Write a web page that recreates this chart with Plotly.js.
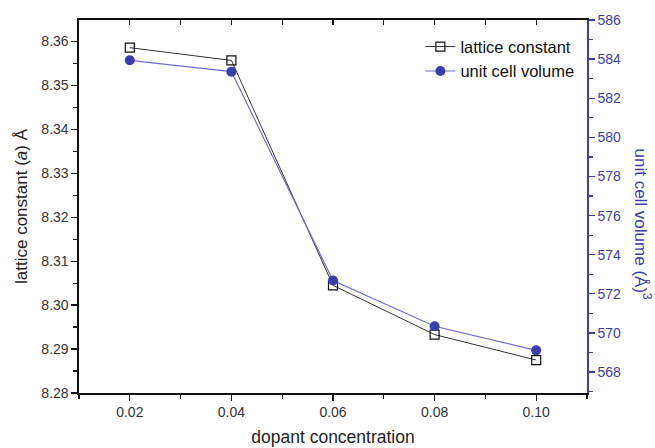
<!DOCTYPE html>
<html>
<head>
<meta charset="utf-8">
<script src="https://cdn.plot.ly/plotly-3.0.1.min.js"></script>
<style>html,body{margin:0;padding:0;background:#fff;}#chart{width:655px;height:448px;}</style>
</head>
<body>
<div id="chart"></div>
<script>
const concentration = [0.02, 0.04, 0.06, 0.08, 0.10];
const latticeConstant = [8.3586, 8.3557, 8.3045, 8.2933, 8.2875];
const cellVolume = [583.94, 583.36, 572.68, 570.34, 569.11];
const xTicks = [0.02, 0.04, 0.06, 0.08, 0.10];
const xTickText = ['0.02', '0.04', '0.06', '0.08', '0.10'];

const BLUE = '#3b3ea8';
const FONT = 'Liberation Sans, Arial, sans-serif';

const traces = [
  {
    x: concentration, y: latticeConstant, name: 'lattice constant',
    type: 'scatter', mode: 'lines+markers',
    line: {color: '#333', width: 1},
    marker: {symbol: 'square-open', size: 9, color: '#111', line: {width: 1.2}},
    xaxis: 'x', yaxis: 'y'
  },
  {
    x: concentration, y: cellVolume, name: 'unit cell volume',
    type: 'scatter', mode: 'lines+markers',
    line: {color: '#6f6fc8', width: 1.2},
    marker: {symbol: 'circle', size: 10, color: BLUE},
    xaxis: 'x', yaxis: 'y2'
  },
  {
    x: [null], y: [null], showlegend: false, hoverinfo: 'skip',
    type: 'scatter', mode: 'markers', xaxis: 'x2', yaxis: 'y'
  }
];

const layout = {
  width: 655, height: 448,
  margin: {l: 79, r: 68, t: 20, b: 55},
  paper_bgcolor: '#fff', plot_bgcolor: '#fff',
  font: {family: FONT, size: 14, color: '#333'},
  showlegend: true,
  legend: {
    x: 0.985, y: 0.975, xanchor: 'right', yanchor: 'top',
    bgcolor: 'rgba(0,0,0,0)', font: {size: 16.5, color: '#111'},
    tracegroupgap: 0, itemwidth: 30
  },
  xaxis: {
    range: [0.01, 0.11], tickmode: 'array', tickvals: xTicks, ticktext: xTickText,
    ticks: 'outside', ticklen: 6, tickwidth: 1.3, tickcolor: '#111',
    showline: true, linecolor: '#111', linewidth: 1.6, showgrid: false, zeroline: false,
    minor: {dtick: 0.01, tick0: 0.01, ticks: 'outside', ticklen: 4, tickwidth: 1.3, tickcolor: '#111'},
    tickfont: {size: 14, color: '#333'},
    title: {text: 'dopant concentration', font: {size: 17.5, color: '#222'}, standoff: 11}
  },
  xaxis2: {
    overlaying: 'x', side: 'top', anchor: 'y', range: [0.01, 0.11],
    dtick: 0.01, tick0: 0.01, ticks: 'inside', ticklen: 5, tickwidth: 1.3, tickcolor: '#111',
    showticklabels: false, showline: true, linecolor: '#111', linewidth: 1.6,
    showgrid: false, zeroline: false
  },
  yaxis: {
    range: [8.28, 8.3649], dtick: 0.01, tick0: 8.28, tickformat: '.2f',
    ticks: 'outside', ticklen: 6, tickwidth: 1.3, tickcolor: '#111',
    showline: true, linecolor: '#111', linewidth: 1.6, showgrid: false, zeroline: false,
    minor: {dtick: 0.005, tick0: 8.28, ticks: 'outside', ticklen: 4, tickwidth: 1.3, tickcolor: '#111'},
    tickfont: {size: 14, color: '#333'},
    title: {text: 'lattice constant (<i>a</i>) Å', font: {size: 17, color: '#222'}, standoff: 9}
  },
  yaxis2: {
    overlaying: 'y', side: 'right', anchor: 'x',
    range: [566.93, 586.0], dtick: 2, tick0: 568,
    ticks: 'outside', ticklen: 6, tickwidth: 1.3, tickcolor: BLUE,
    showline: true, linecolor: BLUE, linewidth: 1.6, showgrid: false, zeroline: false,
    minor: {dtick: 1, tick0: 567, ticks: 'outside', ticklen: 4, tickwidth: 1.3, tickcolor: BLUE},
    tickfont: {size: 14, color: BLUE}
  },
  annotations: [
    {
      xref: 'paper', yref: 'paper', x: 1.0, y: 0.5, xshift: 56, yshift: -18,
      text: 'unit cell volume (Å)<sup>3</sup>', textangle: 90, showarrow: false,
      font: {family: FONT, size: 17, color: BLUE}, xanchor: 'center', yanchor: 'middle'
    }
  ]
};

Plotly.newPlot('chart', traces, layout, {displayModeBar: false, staticPlot: true});
</script>
</body>
</html>
